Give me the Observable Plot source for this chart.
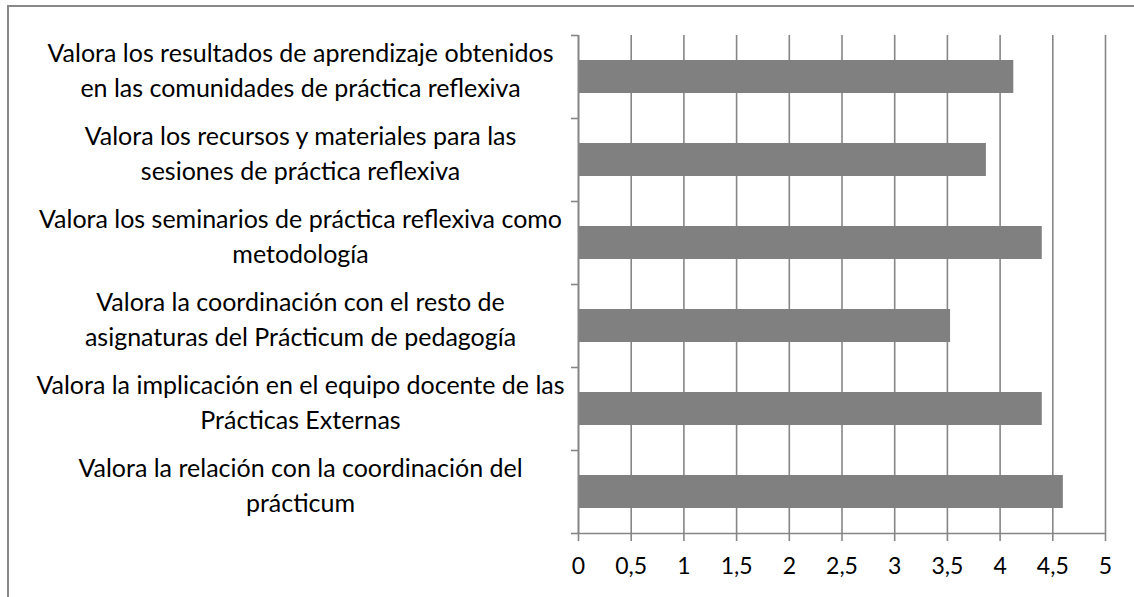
<!DOCTYPE html>
<html><head><meta charset="utf-8">
<script src="https://cdn.jsdelivr.net/npm/d3@7"></script>
<script src="https://cdn.jsdelivr.net/npm/@observablehq/plot@0.6"></script>
<style>
html,body{margin:0;padding:0;background:#fff;overflow:hidden}
#wrap{position:relative;width:1134px;height:597px;overflow:hidden}
#border{position:absolute;left:7px;top:5px;width:1200px;height:700px;border-left:2px solid #888;border-top:2px solid #888}
#wrap svg{position:absolute;left:0;top:0}
</style></head><body><div id="wrap"><div id="border"></div></div>
<script>
const categories = [
  "Valora los resultados de aprendizaje obtenidos\nen las comunidades de práctica reflexiva",
  "Valora los recursos y materiales para las\nsesiones de práctica reflexiva",
  "Valora los seminarios de práctica reflexiva como\nmetodología",
  "Valora la coordinación con el resto de\nasignaturas del Prácticum de pedagogía",
  "Valora la implicación en el equipo docente de las\nPrácticas Externas",
  "Valora la relación con la coordinación del\nprácticum"
];
const values = [4.13, 3.87, 4.40, 3.53, 4.40, 4.60];
const xTicks = [0, 0.5, 1, 1.5, 2, 2.5, 3, 3.5, 4, 4.5, 5];
const boundaries = [0, 1, 2, 3, 4, 5, 6];

const data = categories.map((c, i) => ({label: c, value: values[i], index: i}));
const gray = "#868686";

const chart = Plot.plot({
  width: 1134, height: 597,
  marginLeft: 578, marginRight: 29, marginTop: 35, marginBottom: 64,
  style: {fontFamily: "Lato, 'Open Sans', sans-serif", background: "transparent", color: "black", overflow: "visible"},
  x: {domain: [0, 5], label: null},
  y: {domain: [6, 0], label: null},
  marks: [
    Plot.ruleX(xTicks, {stroke: gray, strokeWidth: 1.6}),
    Plot.rectX(data, {x1: 0, x2: "value", y1: "index", y2: d => d.index + 1, insetTop: 25, insetBottom: 25, fill: "#808080"}),
    Plot.ruleY([6], {stroke: gray, strokeWidth: 1.6}),
    Plot.ruleX([0], {stroke: gray, strokeWidth: 1.6}),
    Plot.axisX(xTicks, {label: null, tickSize: 8, tickPadding: 16, stroke: gray, strokeWidth: 1.6, fontSize: 23, tickFormat: d => String(d).replace(".", ",")}),
    Plot.axisY(boundaries, {label: null, tickSize: 7, stroke: gray, strokeWidth: 1.6, tickFormat: () => ""}),
    Plot.text(data, {x: 0, y: d => d.index + 0.5, text: "label", dx: -278, dy: -9, textAnchor: "middle", lineHeight: 1.4, fontSize: 25, fill: "black"})
  ]
});
document.getElementById("wrap").appendChild(chart);
</script>
</body></html>
